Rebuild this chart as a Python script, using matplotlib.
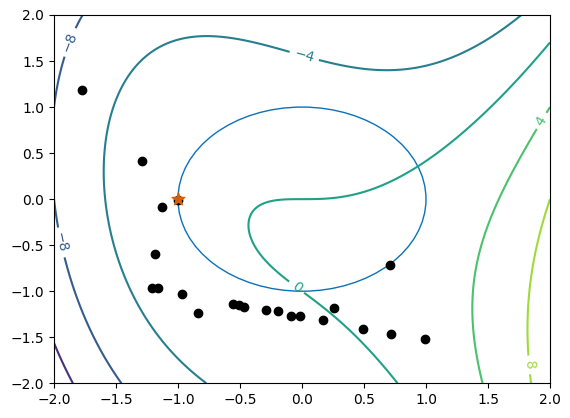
import numpy as np
import matplotlib
matplotlib.use("Agg")
import matplotlib.pyplot as plt

# objective f(x, y) = x^3 - x*y - y^2 - y
levels = [-16, -12, -8, -4, 0, 4, 8, 12]

# where the contour labels sit
label_pos = [(-1.885, 1.71), (-1.94, -0.47), (0.02, 1.565),
             (-0.04, -0.95), (1.92, 0.86), (1.84, -1.80)]

# black points
pts_x = [-1.772, -1.288, -1.127, -1.0, -1.185, -1.212, -1.164, -0.965,
         -0.836, -0.554, -0.505, -0.465, -0.29, -0.19, -0.089, -0.013,
         0.172, 0.26, 0.495, 0.712, 0.72, 0.995]
pts_y = [1.185, 0.41, -0.09, -0.01, -0.60, -0.96, -0.96, -1.025,
         -1.239, -1.134, -1.152, -1.17, -1.2, -1.217, -1.265, -1.265,
         -1.315, -1.18, -1.406, -0.717, -1.46, -1.514]

# start point
star_x = [-1.0]
star_y = [0.0]

circle_r = 1.0


def f(x, y):
    return x**3 - x * y - y**2 - y


xg = np.linspace(-2, 2, 201)
yg = np.linspace(-2, 2, 201)
X, Y = np.meshgrid(xg, yg)
Z = f(X, Y)

fig = plt.figure(figsize=(5.7, 4.18), dpi=100)
ax = fig.add_axes([54 / 570, (418 - 383.3) / 418, 496 / 570, 368.3 / 418])

cs = ax.contour(X, Y, Z, levels=levels, cmap="viridis")
ax.clabel(cs, manual=label_pos, fontsize=10, inline=True)

circ = plt.Circle((0, 0), circle_r, fill=False, color="#0a72b8", lw=1.0)
ax.add_patch(circ)

ax.scatter(pts_x, pts_y, c="k", s=36, zorder=3)
ax.scatter(star_x, star_y, marker="*", c="#d5600a", s=90, zorder=4)

ax.set_xlim(-2, 2)
ax.set_ylim(-2, 2)

fig.savefig("out.png", dpi=100)
